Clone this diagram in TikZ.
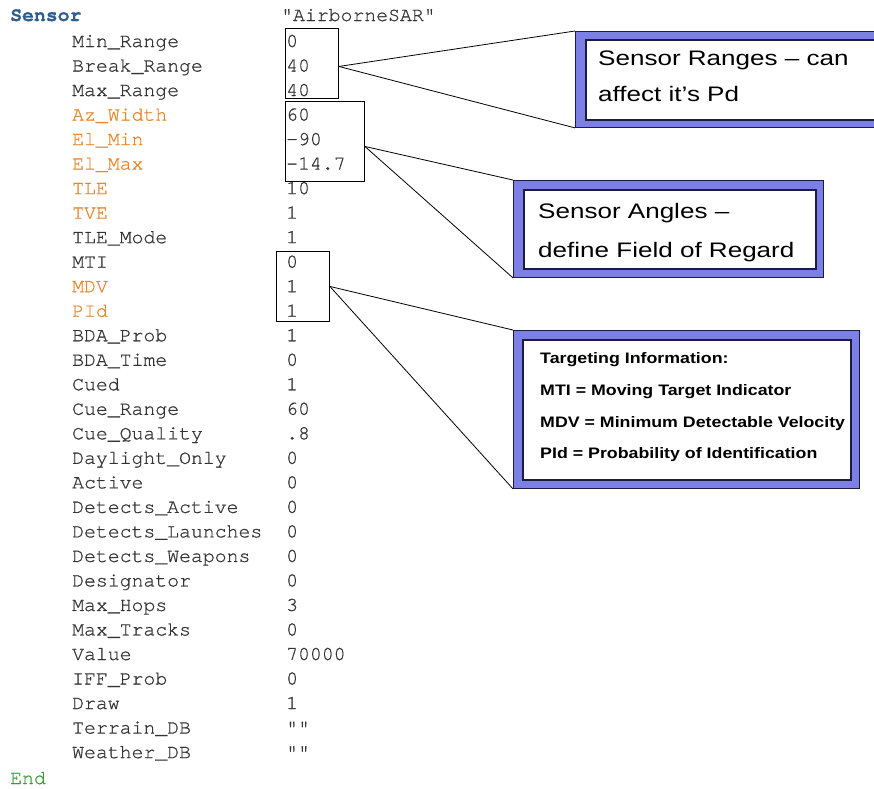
\documentclass[tikz,border=0pt]{standalone}
\usepackage{fontspec}
\setmonofont[FakeBold=0.7]{TeX Gyre Cursor}
\newfontfamily\calfont[FakeStretch=1.24]{Liberation Sans}
\newfontfamily\tgtfont[FakeStretch=1.17]{Liberation Sans}
\definecolor{txt}{HTML}{333333}
\definecolor{orng}{HTML}{E8862A}
\definecolor{kwblue}{HTML}{2E5E8E}
\definecolor{kwgreen}{HTML}{3A9A3A}
\definecolor{peri}{HTML}{7C80E6}
\definecolor{frame}{HTML}{1C1C40}
\begin{document}
\begin{tikzpicture}[x=1pt,y=-1pt,
  mono/.style={anchor=base west,inner sep=0pt,font=\ttfamily\fontsize{19.8}{20}\selectfont},
  valbox/.style={draw=black,line width=0.9pt,inner sep=0pt,anchor=north west},
  conn/.style={draw=black,line width=0.8pt},
  outerbox/.style={draw=frame,line width=0.9pt,fill=peri,inner sep=0pt,anchor=north west},
  innerbox/.style={draw=frame,line width=1.6pt,fill=white,inner sep=0pt,anchor=north west},
  caltext/.style={anchor=base west,inner sep=0pt,text=black,font=\calfont\fontsize{21}{21}\selectfont},
  tgttext/.style={anchor=base west,inner sep=0pt,text=black,font=\tgtfont\bfseries\fontsize{15.2}{15}\selectfont}]
\clip (0,0) rectangle (874,788);
\fill[white] (0,0) rectangle (874,788);

% header and footer
\node[mono,text=kwblue,font=\ttfamily\bfseries\fontsize{19.8}{20}\selectfont] (hdr) at (10,21) {Sensor};
\node[mono,text=txt] (hdrv) at (281,21) {"AirborneSAR"};
\node[mono,text=kwgreen] (endkw) at (10,784) {End};

% parameter rows
\foreach [count=\i from 0] \k/\v/\c in {
  Min\_Range/0/txt, Break\_Range/40/txt, Max\_Range/40/txt,
  Az\_Width/60/orng, El\_Min/-90/orng, El\_Max/-14.7/orng,
  TLE/10/orng, TVE/1/orng, TLE\_Mode/1/txt,
  MTI/0/txt, MDV/1/orng, PId/1/orng,
  BDA\_Prob/1/txt, BDA\_Time/0/txt, Cued/1/txt,
  Cue\_Range/60/txt, Cue\_Quality/.8/txt, Daylight\_Only/0/txt,
  Active/0/txt, Detects\_Active/0/txt, Detects\_Launches/0/txt,
  Detects\_Weapons/0/txt, Designator/0/txt, Max\_Hops/3/txt,
  Max\_Tracks/0/txt, Value/70000/txt, IFF\_Prob/0/txt,
  Draw/1/txt, Terrain\_DB/""/txt, Weather\_DB/""/txt}
{
  \node[mono,text=\c] (k\i) at (72,{47+24.52*\i}) {\k};
  \node[mono,text=txt] (v\i) at (286,{47+24.52*\i}) {\v};
}

% value boxes
\node[valbox,minimum width=53pt,minimum height=70pt] (rng) at (285,28) {};
\node[valbox,minimum width=79pt,minimum height=80pt] (ang) at (285,101) {};
\node[valbox,minimum width=53pt,minimum height=70pt] (tgt) at (276,251) {};

% callout boxes
\node[outerbox,minimum width=310pt,minimum height=96pt] (c1) at (575,31) {};
\node[innerbox,minimum width=300pt,minimum height=80pt] (c1i) at (585,39) {};
\node[outerbox,minimum width=310pt,minimum height=97pt] (c2) at (513,180) {};
\node[innerbox,minimum width=292pt,minimum height=79pt] (c2i) at (523,189) {};
\node[outerbox,minimum width=346pt,minimum height=158pt] (c3) at (513,330) {};
\node[innerbox,minimum width=328pt,minimum height=140pt] (c3i) at (522,339) {};

% connectors
\draw[conn] ([yshift=-3pt]rng.east) -- (c1.north west);
\draw[conn] ([yshift=-3pt]rng.east) -- (c1.south west);
\draw[conn] ([yshift=-5pt]ang.east) -- (c2.north west);
\draw[conn] ([yshift=-5pt]ang.east) -- (c2.south west);
\draw[conn] (tgt.east) -- (c3.north west);
\draw[conn] (tgt.east) -- (c3.south west);

% callout texts
\node[caltext] (t1a) at (598,65) {Sensor Ranges – can};
\node[caltext] (t1b) at (598,101) {affect it’s Pd};
\node[caltext] (t2a) at (538,218) {Sensor Angles –};
\node[caltext] (t2b) at (538,257) {define Field of Regard};
\node[tgttext] (t3a) at (540,363) {Targeting Information:};
\node[tgttext] (t3b) at (540,395) {MTI = Moving Target Indicator};
\node[tgttext] (t3c) at (540,427) {MDV = Minimum Detectable Velocity};
\node[tgttext] (t3d) at (540,458) {PId = Probability of Identification};
\end{tikzpicture}
\end{document}
